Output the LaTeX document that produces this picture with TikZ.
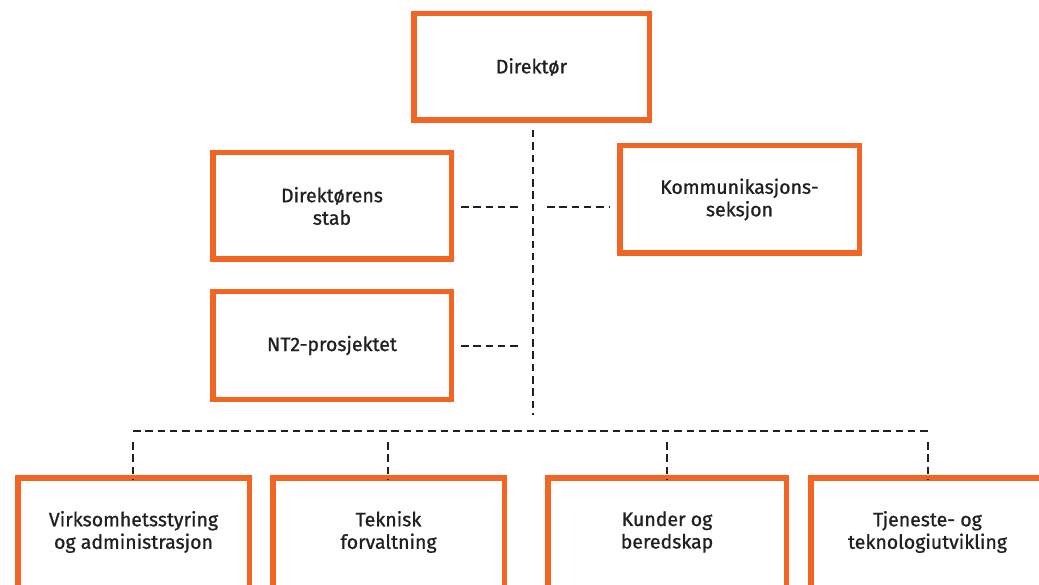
\documentclass[tikz,border=0pt]{standalone}
\usepackage{fontspec}
\setmainfont{Fira Sans}[FakeBold=0.9]
\definecolor{orgorange}{RGB}{242,101,34}
\definecolor{orgtext}{RGB}{35,31,32}
\begin{document}
\begin{tikzpicture}[x=1pt,y=-1pt,
  orgbox/.style={draw=orgorange,line width=5.5pt,fill=white,align=center,
    font=\fontsize{19.5}{22.5}\selectfont,text=orgtext,inner sep=0pt},
  lbl/.style={align=center,font=\fontsize{19.5}{22.5}\selectfont,text=orgtext,inner sep=0pt},
  link/.style={draw=orgtext,line width=2.5pt,dash pattern=on 7.5pt off 4.8pt}]
\clip (0,0) rectangle (1039,585);
\fill[white] (0,0) rectangle (1039,585);
% top boxes
\node[orgbox,minimum width=235.5pt,minimum height=106.5pt] (dir) at (531.5,67) {Direktør};
\node[orgbox,minimum width=238.5pt,minimum height=106.5pt] (stab) at (332,206) {Direktørens\\stab};
\node[orgbox,minimum width=239.5pt,minimum height=107.5pt] (komm) at (739.5,199.5) {Kommunikasjons-\\seksjon};
\node[orgbox,minimum width=238.5pt,minimum height=107.5pt] (nt2) at (332,345.5) {NT2-prosjektet};
% bottom boxes
\node[orgbox,minimum width=231.5pt,minimum height=134.5pt] (b1) at (133.5,545) {};
\node[orgbox,minimum width=231.5pt,minimum height=134.5pt] (b2) at (388.5,545) {};
\node[orgbox,minimum width=238.5pt,minimum height=134.5pt] (b3) at (667,545) {};
\node[orgbox,minimum width=233.5pt,minimum height=134.5pt] (b4) at (927.5,545) {};
\node[lbl] (t1) at (133.5,532) {Virksomhetsstyring\\og administrasjon};
\node[lbl] (t2) at (388.5,532) {Teknisk\\forvaltning};
\node[lbl] (t3) at (667,532) {Kunder og\\beredskap};
\node[lbl] (t4) at (927.5,532) {Tjeneste- og\\teknologiutvikling};
% coordinates
\coordinate (vtop) at (533,130);
\coordinate (vbot) at (533,415);
\coordinate (sl) at (521,207);
\coordinate (sr) at (547,207);
\coordinate (kl) at (609,207);
\coordinate (nl) at (521,346);
\coordinate (h1) at (133,431);
\coordinate (h4) at (928,431);
\coordinate (d1) at (133,442);
\coordinate (d2) at (388,442);
\coordinate (d3) at (667,442);
\coordinate (d4) at (928,442);
% connectors
\draw[link] (vtop) -- (vbot);
\draw[link] ([xshift=7pt]stab.east |- sl) -- (sl);
\draw[link] (sr) -- (kl);
\draw[link] ([xshift=7pt]nt2.east |- nl) -- (nl);
\draw[link] (h1) -- (h4);
\draw[link] (d1) -- ([yshift=-5pt]b1.north -| d1);
\draw[link] (d2) -- ([yshift=-5pt]b2.north -| d2);
\draw[link] (d3) -- ([yshift=-5pt]b3.north -| d3);
\draw[link] (d4) -- ([yshift=-5pt]b4.north -| d4);
\end{tikzpicture}
\end{document}
